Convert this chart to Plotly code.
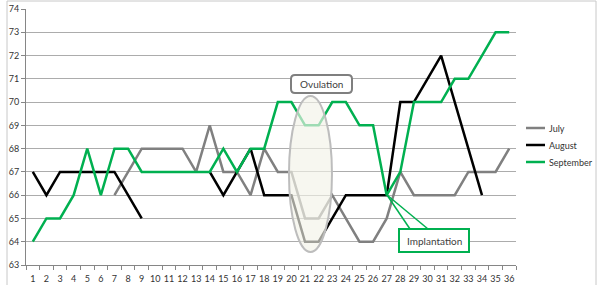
import plotly.graph_objects as go

days = list(range(1, 37))
july = [None] * 6 + [66, 67, 68, 68, 68, 68, 67, 69, 67, 67, 66, 68, 67, 67, 65,
                     65, 66, 65, 64, 64, 65, 67, 66, 66, 66, 66, 67, 67, 67, 68]
august = [67, 66, 67, 67, 67, 67, 67, 66, 65, None, None, None, None,
          67, 66, 67, 68, 66, 66, 66, 64, 64, 65, 66, 66, 66, 66,
          70, 70, 71, 72, 70, 68, 66, None, None]
september = [64, 65, 65, 66, 68, 66, 68, 68, 67, 67, 67, 67, 67, 67, 68, 67, 68, 68,
             70, 70, 69, 69, 70, 70, 69, 69, 66, 67, 70, 70, 70, 71, 71, 72, 73, 73]
series_names = ["July", "August", "September"]
series_colors = ["#808080", "#000000", "#00b050"]
y_ticks = list(range(63, 75))

W, H = 600, 285
def px(x):
    return x / W
def py(y):
    return 1 - y / H

FONT = "Lato, 'Liberation Sans', Arial, sans-serif"
fig = go.Figure()
for name, vals, col in zip(series_names, [july, august, september], series_colors):
    fig.add_trace(go.Scatter(x=days, y=vals, mode="lines", name=name,
                             line=dict(color=col, width=2.5), connectgaps=False,
                             showlegend=False))

shapes = []
# chart outer border
shapes.append(dict(type="rect", xref="paper", yref="paper", x0=px(7), x1=px(596),
                   y0=py(288), y1=py(1), line=dict(color="#c8c8c8", width=1), layer="below"))
# Ovulation ellipse
shapes.append(dict(type="circle", xref="x", yref="y", x0=19.82, x1=22.98, y0=63.56, y1=70.26,
                   fillcolor="rgba(242,242,232,0.65)", line=dict(color="#bdbdbd", width=2),
                   layer="above"))
# Ovulation rounded box
x0, x1, y0, y1, r = px(291), px(352), py(93), py(75), 4
rx, ry = r / W, r / H
path = (f"M{x0+rx},{y1} L{x1-rx},{y1} Q{x1},{y1} {x1},{y1-ry} L{x1},{y0+ry} "
        f"Q{x1},{y0} {x1-rx},{y0} L{x0+rx},{y0} Q{x0},{y0} {x0},{y0+ry} "
        f"L{x0},{y1-ry} Q{x0},{y1} {x0+rx},{y1} Z")
shapes.append(dict(type="path", xref="paper", yref="paper", path=path,
                   fillcolor="white", line=dict(color="#7f7f7f", width=2), layer="above"))
# Implantation callout pointer
for bx in (410, 428):
    shapes.append(dict(type="line", xref="paper", yref="paper", x0=px(bx), y0=py(229),
                       x1=px(387), y1=py(195), line=dict(color="#00b050", width=1.5),
                       layer="above"))
# Implantation box
shapes.append(dict(type="rect", xref="paper", yref="paper", x0=px(399), x1=px(469),
                   y0=py(252), y1=py(229), fillcolor="white",
                   line=dict(color="#00b050", width=2), layer="above"))
# legend keys
leg_y = [128, 145, 162]
for ly, col in zip(leg_y, series_colors):
    shapes.append(dict(type="line", xref="paper", yref="paper", x0=px(526), x1=px(545),
                       y0=py(ly), y1=py(ly), line=dict(color=col, width=2.5)))

annotations = [
    dict(text="Ovulation", xref="paper", yref="paper", x=px(321.5), y=py(84), showarrow=False,
         font=dict(family=FONT, size=10, color="#404040"), xanchor="center", yanchor="middle"),
    dict(text="Implantation", xref="paper", yref="paper", x=px(434), y=py(240.5), showarrow=False,
         font=dict(family=FONT, size=10, color="#404040"), xanchor="center", yanchor="middle"),
]
for ly, name in zip(leg_y, series_names):
    annotations.append(dict(text=name, xref="paper", yref="paper", x=px(547), y=py(ly),
                            showarrow=False, xanchor="left", yanchor="middle",
                            font=dict(family=FONT, size=9, color="#333333")))

fig.update_layout(
    width=W, height=H, margin=dict(l=0, r=0, t=0, b=0),
    paper_bgcolor="white", plot_bgcolor="white",
    shapes=shapes, annotations=annotations, showlegend=False,
    xaxis=dict(domain=[px(26), px(516)], range=[0.5, 36.5], tickvals=days,
               ticktext=[str(d) for d in days], ticks="", showgrid=False, zeroline=False,
               showline=True, linecolor="#868686", linewidth=1, ticklabelstandoff=5,
               minor=dict(tickvals=[d + 0.5 for d in range(0, 37)], ticks="outside",
                          ticklen=4, tickcolor="#868686", showgrid=False),
               tickfont=dict(family=FONT, size=9, color="#333333"), automargin=False,
               fixedrange=True),
    yaxis=dict(domain=[py(265), py(9)], range=[63, 74], tickvals=y_ticks,
               ticks="outside", ticklen=4, tickcolor="#868686",
               showgrid=True, gridcolor="#acacac", gridwidth=1, zeroline=False,
               showline=True, linecolor="#868686", linewidth=1,
               tickfont=dict(family=FONT, size=9, color="#333333"), automargin=False,
               fixedrange=True),
)
fig.write_html("out.html")
